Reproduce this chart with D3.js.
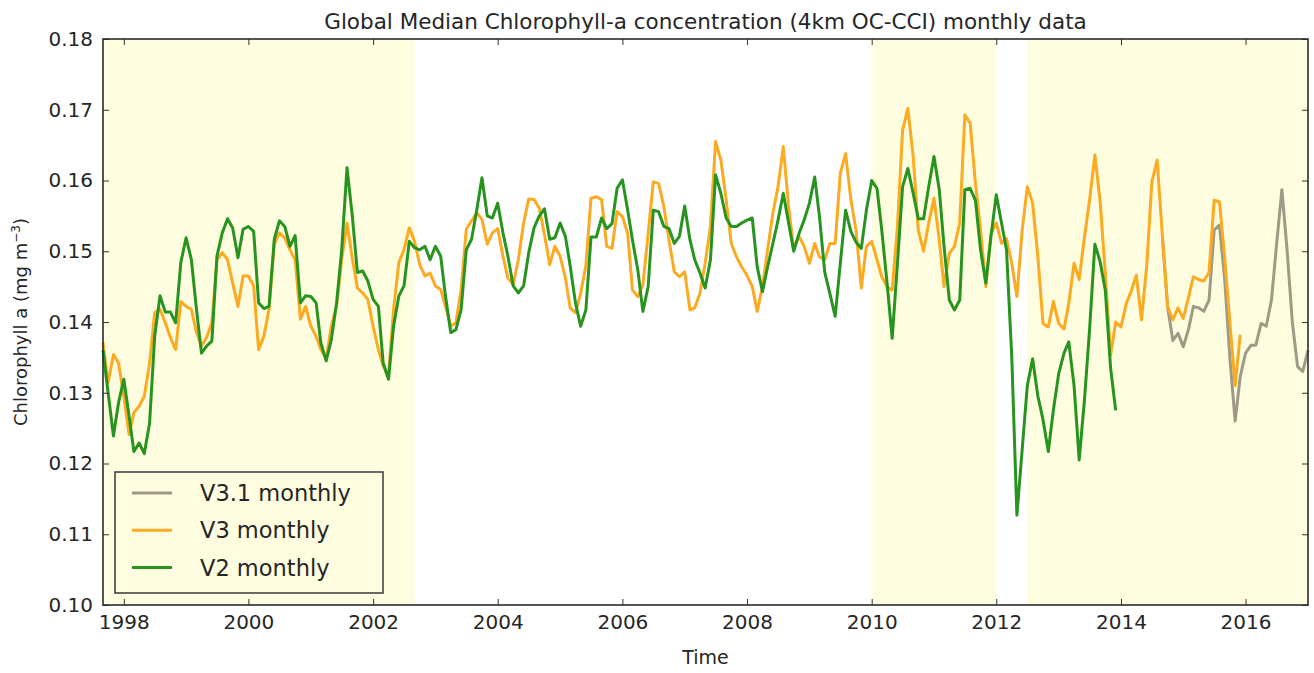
<!DOCTYPE html>
<html>
<head>
<meta charset="utf-8">
<script src="https://cdn.jsdelivr.net/npm/d3@7"></script>
<style>
  body { margin: 0; background: #fff; }
  text { font-family: "DejaVu Sans", sans-serif; fill: #262626; }
</style>
</head>
<body>
<svg id="ChlChart"></svg>
<script>
// monthly medians, one value per month from the start month
let v2Start = "1997-09";
let v2Values = [
  0.136, 0.130, 0.1239, 0.1286, 0.1319, 0.1267, 0.1217, 0.1229, 0.1214, 0.1257,
  0.138, 0.1437, 0.1414, 0.1414, 0.1399, 0.1484, 0.1519, 0.1488, 0.1422, 0.1356,
  0.1366, 0.1373, 0.1493, 0.1526, 0.1546, 0.1533, 0.1491, 0.1531, 0.1535, 0.1528,
  0.1427, 0.1419, 0.1422, 0.1517, 0.1543, 0.1535, 0.1507, 0.1522, 0.1427, 0.1437,
  0.1436, 0.1427, 0.137, 0.1345, 0.1375, 0.1427, 0.1502, 0.1618,
  0.155, 0.147, 0.1472, 0.1458, 0.1432, 0.1422, 0.1342, 0.1319, 0.1394, 0.1437,
  0.1451, 0.1514, 0.1505, 0.1502, 0.1507, 0.1488, 0.1507, 0.1493, 0.1437, 0.1385,
  0.1389, 0.1418, 0.1502, 0.1517, 0.1559, 0.1604, 0.155, 0.1547, 0.1568, 0.1526,
  0.1493, 0.1451, 0.1441, 0.1451, 0.1498, 0.1533, 0.155, 0.156, 0.1517, 0.1519,
  0.154, 0.1521, 0.1479, 0.1427, 0.1394,
  0.1417, 0.152, 0.152, 0.1547, 0.1532, 0.1539, 0.1589, 0.1601, 0.1558, 0.1516,
  0.1474, 0.1415, 0.145, 0.1558, 0.1556, 0.1535, 0.1532, 0.1511, 0.1521, 0.1564,
  0.1516, 0.1488, 0.1469, 0.1448, 0.1488, 0.1608, 0.1582, 0.1547, 0.1535, 0.1535,
  0.154, 0.1544, 0.1547, 0.1478, 0.1443, 0.1478, 0.1511, 0.1544, 0.1582, 0.154,
  0.15, 0.1525, 0.1544, 0.1568, 0.1605, 0.1549, 0.147, 0.144,
  0.1408, 0.1483, 0.1558, 0.1528, 0.1513, 0.1504, 0.1558, 0.16, 0.1589, 0.153,
  0.1455, 0.1377, 0.1483, 0.1591, 0.1617, 0.1582, 0.1546, 0.1546, 0.1591, 0.1634,
  0.1587, 0.1507, 0.1431, 0.1417, 0.1431, 0.1587, 0.1589, 0.1572, 0.1502, 0.1455,
  0.1521, 0.158, 0.154, 0.1502, 0.135, 0.1127, 0.122, 0.131, 0.1348, 0.1295,
  0.1262, 0.1217, 0.1276, 0.1327, 0.1356, 0.1372, 0.131, 0.1205, 0.129, 0.139,
  0.151, 0.1485, 0.1445, 0.1335, 0.1275
];

let v3Start = "1997-09";
let v3Values = [
  0.1371, 0.1314, 0.1354, 0.1342, 0.1295, 0.1241, 0.1272, 0.1281, 0.1295, 0.1342,
  0.1413, 0.1418, 0.1399, 0.1378, 0.1361, 0.1429, 0.1422, 0.1418, 0.1387, 0.1366,
  0.1378, 0.1399, 0.1488, 0.1498, 0.1488, 0.1455, 0.1422, 0.1465, 0.1465, 0.1451,
  0.1361, 0.138, 0.1418, 0.151, 0.1526, 0.1519, 0.1502, 0.1488, 0.1404, 0.1422,
  0.1394, 0.138, 0.1361, 0.1348, 0.1394, 0.1422, 0.1488, 0.154,
  0.149, 0.1448, 0.1441, 0.1432, 0.1394, 0.1361, 0.1338, 0.1323, 0.1418, 0.1484,
  0.1502, 0.1533, 0.1514, 0.1481, 0.1465, 0.1469, 0.1451, 0.1446, 0.1422, 0.1394,
  0.1399, 0.1446, 0.1531, 0.1543, 0.1554, 0.1545, 0.151, 0.1526, 0.1532, 0.1493,
  0.1462, 0.1453, 0.1488, 0.154, 0.1574, 0.1573, 0.1561, 0.1524, 0.1481, 0.1507,
  0.1493, 0.1462, 0.142, 0.1413, 0.144,
  0.148, 0.1575, 0.1577, 0.1573, 0.1507, 0.1504, 0.1556, 0.1549, 0.1525, 0.1445,
  0.1436, 0.1452, 0.1525, 0.1598, 0.1596, 0.1563, 0.1516, 0.1471, 0.1464, 0.1471,
  0.1417, 0.142, 0.1441, 0.1483, 0.1535, 0.1655, 0.1629, 0.1573, 0.1511, 0.1492,
  0.1478, 0.1466, 0.145, 0.1415, 0.145, 0.1502, 0.1554, 0.1591, 0.1648, 0.1563,
  0.1504, 0.1521, 0.1507, 0.1483, 0.1511, 0.1492, 0.1488, 0.1511,
  0.1511, 0.161, 0.1638, 0.1573, 0.153, 0.1448, 0.1507, 0.1514, 0.1488, 0.1464,
  0.145, 0.1445, 0.1535, 0.1671, 0.1702, 0.1634, 0.153, 0.15, 0.154, 0.1575,
  0.1516, 0.145, 0.1497, 0.1507, 0.154, 0.1693, 0.1681, 0.1596, 0.153, 0.145,
  0.1525, 0.154, 0.1511, 0.1518, 0.1483, 0.1436, 0.153, 0.1591, 0.1568, 0.1492,
  0.1398, 0.1393, 0.1429, 0.1398, 0.139, 0.1426, 0.1483, 0.146, 0.152, 0.1572,
  0.1636, 0.157, 0.1469, 0.1353, 0.14, 0.1393, 0.1426, 0.1443, 0.1466, 0.1403,
  0.148, 0.1598, 0.1629, 0.152, 0.1422, 0.1403, 0.142, 0.1405, 0.1435, 0.1464,
  0.146, 0.1458, 0.147, 0.1572, 0.157, 0.149, 0.14, 0.131, 0.1382
];

let v31Start = "2014-09";
let v31Values = [
  0.152, 0.1422, 0.1374, 0.1384, 0.1365, 0.139, 0.1422, 0.142, 0.1415, 0.1431,
  0.153, 0.1537, 0.146, 0.135, 0.126, 0.1323, 0.1356, 0.1367, 0.1367, 0.1398,
  0.1394, 0.1431, 0.151, 0.1587, 0.15, 0.14, 0.1337, 0.133, 0.136
];

let seriesNames = ["V3.1 monthly", "V3 monthly", "V2 monthly"];
let seriesColors = ["#9d9b86", "#fbaa22", "#27941f"];

// highlighted periods (start month, end month)
let shadeStarts = ["1997-09", "2010-01", "2012-07"];
let shadeEnds = ["2002-09", "2012-01", "2017-01"];

let xTickYears = [1998, 2000, 2002, 2004, 2006, 2008, 2010, 2012, 2014, 2016];
let yTicks = [0.10, 0.11, 0.12, 0.13, 0.14, 0.15, 0.16, 0.17, 0.18];

let store = {};

let parseMonth = d3.timeParse("%Y-%m");

function toSeries(start, values) {
  let d0 = parseMonth(start);
  return values.map((v, i) => ({ date: d3.timeMonth.offset(d0, i), value: v }));
}

function getConfig() {
  let width = 1314;
  let height = 673;
  let margin = { top: 39, bottom: 68, left: 103, right: 6 };
  let bodyWidth = width - margin.left - margin.right;
  let bodyHeight = height - margin.top - margin.bottom;
  let container = d3.select("#ChlChart")
    .attr("width", width)
    .attr("height", height);
  return { width, height, margin, bodyWidth, bodyHeight, container };
}

function getScales(config) {
  let { margin, bodyWidth, bodyHeight } = config;
  let xScale = d3.scaleTime()
    .domain([parseMonth("1997-09"), parseMonth("2017-01")])
    .range([margin.left, margin.left + bodyWidth]);
  let yScale = d3.scaleLinear()
    .domain([0.10, 0.18])
    .range([margin.top + bodyHeight, margin.top]);
  return { xScale, yScale };
}

function drawShading(scales, config) {
  let { xScale, yScale } = scales;
  let spans = shadeStarts.map((s, i) => [parseMonth(s), parseMonth(shadeEnds[i])]);
  config.container.append("g")
    .selectAll("rect")
    .data(spans)
    .enter()
    .append("rect")
    .attr("x", d => xScale(d[0]))
    .attr("width", d => xScale(d[1]) - xScale(d[0]))
    .attr("y", yScale(0.18))
    .attr("height", yScale(0.10) - yScale(0.18))
    .attr("fill", "#fefddf");
}

function drawLines(scales, config) {
  let { xScale, yScale } = scales;
  let all = [
    toSeries(v31Start, v31Values),
    toSeries(v3Start, v3Values),
    toSeries(v2Start, v2Values)
  ];
  let line = d3.line()
    .x(d => xScale(d.date))
    .y(d => yScale(d.value));

  config.container.append("g")
    .selectAll("path")
    .data(all)
    .enter()
    .append("path")
    .attr("d", line)
    .attr("fill", "none")
    .attr("stroke", (d, i) => seriesColors[i])
    .attr("stroke-width", 3)
    .attr("stroke-linejoin", "round");
}

function drawAxes(scales, config) {
  let { xScale, yScale } = scales;
  let { container, margin, bodyWidth, bodyHeight } = config;
  let xTicks = xTickYears.map(y => new Date(y, 0, 1));
  let bottom = margin.top + bodyHeight;
  let right = margin.left + bodyWidth;

  let axisX = d3.axisBottom(xScale).tickValues(xTicks)
    .tickFormat(d3.timeFormat("%Y")).tickSizeInner(-6).tickSizeOuter(0).tickPadding(10);
  let gX = container.append("g").attr("transform", `translate(0,${bottom})`).call(axisX);

  let axisTop = d3.axisTop(xScale).tickValues(xTicks)
    .tickFormat("").tickSizeInner(-6).tickSizeOuter(0);
  let gTop = container.append("g").attr("transform", `translate(0,${margin.top})`).call(axisTop);

  let axisY = d3.axisLeft(yScale).tickValues(yTicks)
    .tickFormat(d3.format(".2f")).tickSizeInner(-6).tickSizeOuter(0).tickPadding(10);
  let gY = container.append("g").attr("transform", `translate(${margin.left},0)`).call(axisY);

  let axisR = d3.axisRight(yScale).tickValues(yTicks)
    .tickFormat("").tickSizeInner(-6).tickSizeOuter(0);
  let gR = container.append("g").attr("transform", `translate(${right},0)`).call(axisR);

  [gX, gTop, gY, gR].forEach(g => {
    g.select(".domain").remove();
    g.selectAll("line").attr("stroke", "#333").attr("stroke-width", 1);
    g.selectAll("text").style("font-size", "20px").attr("fill", "#262626");
  });

  // frame
  container.append("rect")
    .attr("x", margin.left).attr("y", margin.top)
    .attr("width", bodyWidth).attr("height", bodyHeight)
    .attr("fill", "none").attr("stroke", "#2b2b2b").attr("stroke-width", 1.6);

  container.append("text")
    .attr("x", margin.left + bodyWidth / 2).attr("y", 29)
    .attr("text-anchor", "middle").style("font-size", "21.5px")
    .text("Global Median Chlorophyll-a concentration (4km OC-CCI) monthly data");

  container.append("text")
    .attr("x", margin.left + bodyWidth / 2).attr("y", 664)
    .attr("text-anchor", "middle").style("font-size", "19px")
    .text("Time");

  let yl = container.append("text")
    .attr("transform", `translate(27,${margin.top + bodyHeight / 2}) rotate(-90)`)
    .attr("text-anchor", "middle").style("font-size", "18px");
  yl.append("tspan").text("Chlorophyll a (mg m");
  yl.append("tspan").attr("dy", -7).style("font-size", "12px").text("−3");
  yl.append("tspan").attr("dy", 7).text(")");
}

function drawLegend(config) {
  let { container } = config;
  let g = container.append("g").attr("transform", "translate(115,472)");
  g.append("rect")
    .attr("width", 268).attr("height", 121)
    .attr("fill", "#fefddf").attr("stroke", "#444").attr("stroke-width", 1.6);
  let rows = g.selectAll(".row").data(seriesNames).enter().append("g")
    .attr("transform", (d, i) => `translate(0,${21 + i * 37.3})`);
  rows.append("line")
    .attr("x1", 17).attr("x2", 57)
    .attr("stroke", (d, i) => seriesColors[i]).attr("stroke-width", 3);
  rows.append("text")
    .attr("x", 85).attr("dy", "0.36em")
    .style("font-size", "22.5px")
    .text(d => d);
}

function showData() {
  store.config = getConfig();
  store.scales = getScales(store.config);
  drawShading(store.scales, store.config);
  drawLines(store.scales, store.config);
  drawAxes(store.scales, store.config);
  drawLegend(store.config);
}

showData();
</script>
</body>
</html>
